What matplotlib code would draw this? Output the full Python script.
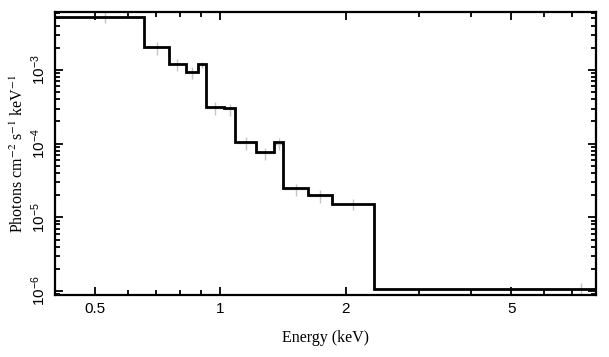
import numpy as np
import matplotlib

matplotlib.use("Agg")
import matplotlib.pyplot as plt
from matplotlib.ticker import FixedLocator, FixedFormatter, LogLocator, NullFormatter

# model bins (keV) and folded model values (photons cm^-2 s^-1 keV^-1)
bin_edges = [0.40, 0.655, 0.752, 0.825, 0.883, 0.925, 1.018, 1.086, 1.215,
             1.347, 1.416, 1.626, 1.857, 2.337, 23.0]
model_vals = [5.29e-3, 2.07e-3, 1.19e-3, 9.48e-4, 1.19e-3, 3.18e-4, 3.02e-4,
              1.045e-4, 7.64e-5, 1.045e-4, 2.48e-5, 1.99e-5, 1.54e-5, 1.065e-6]

# unfolded data points
data_x = [0.527, 0.703, 0.785, 0.853, 0.902, 0.969, 1.052, 1.150, 1.277,
          1.380, 1.516, 1.731, 2.088, 7.36]
data_y = [5.29e-3, 2.02e-3, 1.19e-3, 9.25e-4, 1.17e-3, 3.05e-4, 2.91e-4,
          1.02e-4, 7.36e-5, 1.00e-4, 2.39e-5, 1.95e-5, 1.52e-5, 1.065e-6]
data_err = [1.0e-3, 4.0e-4, 2.3e-4, 1.8e-4, 1.2e-4, 6.0e-5, 5.6e-5,
            2.0e-5, 1.4e-5, 1.9e-5, 4.6e-6, 3.8e-6, 2.8e-6, 2.2e-7]

xtick_vals = [0.5, 1, 2, 5]
xtick_labels = ["0.5", "1", "2", "5"]

plt.rcParams["mathtext.fontset"] = "custom"
plt.rcParams["mathtext.rm"] = "Liberation Sans"
plt.rcParams["mathtext.it"] = "Liberation Sans:italic"
plt.rcParams["font.family"] = "Liberation Sans"

fig = plt.figure(figsize=(6.09, 3.57), dpi=100)
ax = fig.add_axes([0.0903, 0.1728, 0.8884, 0.7922])

# data crosses (light grey) under the model histogram
xlo = [x - bin_edges[i] for i, x in enumerate(data_x)]
xhi = [bin_edges[i + 1] - x for i, x in enumerate(data_x)]
ax.errorbar(data_x, data_y, xerr=[xlo, xhi], yerr=data_err, fmt="none",
            ecolor="#c4c4c4", elinewidth=1.0, zorder=1)

ax.stairs(model_vals, bin_edges, baseline=None, color="black", lw=2.0, zorder=3)

ax.set_xscale("log")
ax.set_yscale("log")
ax.set_xlim(0.40, 8.0)
ax.set_ylim(8.75e-7, 6.03e-3)

ax.xaxis.set_major_locator(FixedLocator(xtick_vals))
ax.xaxis.set_major_formatter(FixedFormatter(xtick_labels))
ax.xaxis.set_minor_locator(FixedLocator([0.4, 0.6, 0.7, 0.8, 0.9, 3, 4, 6, 7, 8]))
ax.xaxis.set_minor_formatter(NullFormatter())

ax.yaxis.set_major_locator(LogLocator(base=10, numticks=10))
ax.yaxis.set_minor_locator(LogLocator(base=10, subs=np.arange(2, 10), numticks=20))
ax.yaxis.set_minor_formatter(NullFormatter())

ax.tick_params(which="both", direction="in", top=True, right=True, width=1.3)
ax.tick_params(which="major", length=6, labelsize=11, pad=5)
ax.tick_params(which="minor", length=3.5)
for lab in ax.get_yticklabels():
    lab.set_rotation(90)
    lab.set_va("center")

for sp in ax.spines.values():
    sp.set_linewidth(1.6)

ax.set_xlabel("Energy (keV)", family="Liberation Serif", fontsize=11.5, labelpad=10)
ax.set_ylabel(r"Photons cm$^{-2}$ s$^{-1}$ keV$^{-1}$", family="Liberation Serif",
              fontsize=11.5, math_fontfamily="stix", labelpad=2)

fig.savefig("out.png", dpi=100)
